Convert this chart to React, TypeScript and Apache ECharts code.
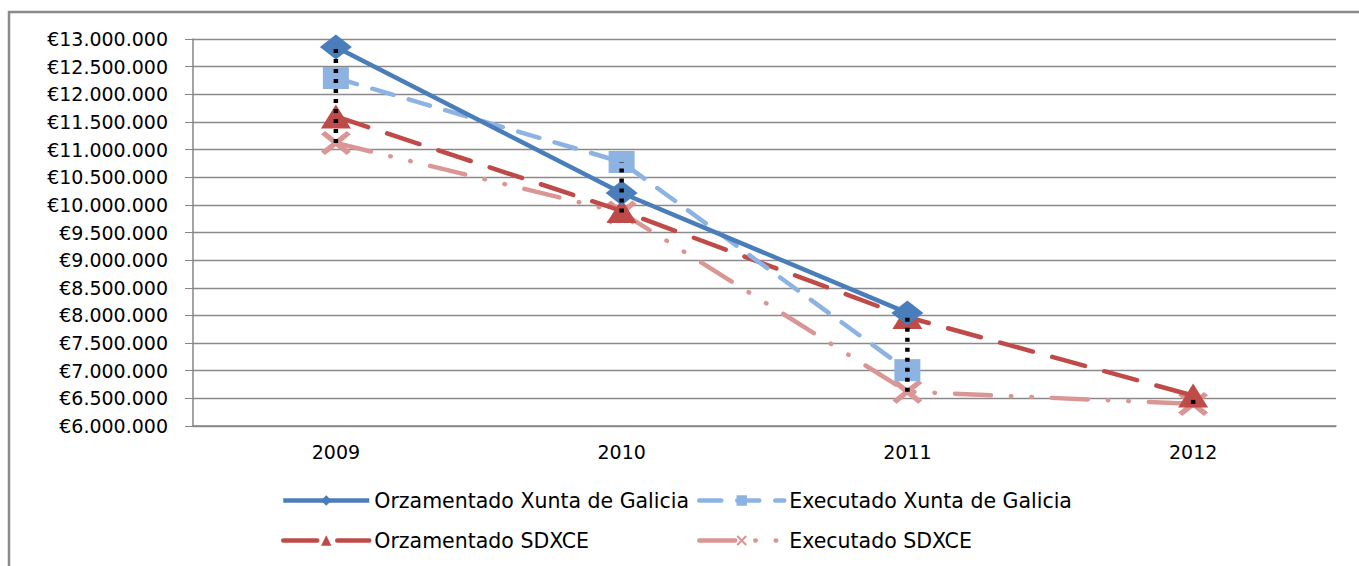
import React, { useEffect, useRef } from "react";
import * as echarts from "echarts";

const categories = ["2009", "2010", "2011", "2012"];
const seriesNames = [
  "Orzamentado Xunta de Galicia",
  "Executado Xunta de Galicia",
  "Orzamentado SDXCE",
  "Executado SDXCE",
];
const orzXunta: (number | null)[] = [12855000, 10215000, 8045000, null];
const execXunta: (number | null)[] = [12295000, 10775000, 7010000, null];
const orzSdxce: (number | null)[] = [11600000, 9890000, 7970000, 6550000];
const execSdxce: (number | null)[] = [11120000, 9860000, 6620000, 6400000];

const fmt = (v: number) => "€" + String(v).replace(/\B(?=(\d{3})+(?!\d))/g, ".");

const X_PATH =
  "path://M0,1.4 L1.4,0 L10,8.6 L8.6,10 Z M8.6,0 L10,1.4 L1.4,10 L0,8.6 Z";

export default function App() {
  const ref = useRef<HTMLDivElement>(null);
  useEffect(() => {
    if (!ref.current) return;
    const chart = echarts.init(ref.current, undefined, { renderer: "svg" });
    const all = [orzXunta, execXunta, orzSdxce, execSdxce];
    const hiLo = categories.map((_, i) => {
      const vals = all.map((s) => s[i]).filter((v) => v != null) as number[];
      return [i, Math.min(...vals), Math.max(...vals)];
    });
    const axisFont = "DejaVu Sans";
    const legendText = {
      color: "#000",
      fontFamily: axisFont,
      fontSize: 20.5,
      lineHeight: 20,
    };
    chart.setOption({
      animation: false,
      backgroundColor: "#fff",
      graphic: [
        {
          type: "polyline",
          shape: { points: [[9, 566], [9, 12], [1359, 12]] },
          style: { stroke: "#8a8a8a", lineWidth: 2.5, fill: "none" },
          silent: true,
        },
      ],
      grid: { left: 193, top: 39, right: 23, bottom: 140 },
      xAxis: {
        type: "category",
        data: categories,
        boundaryGap: true,
        axisLine: { lineStyle: { color: "#868686", width: 1.5 } },
        axisTick: { show: false },
        axisLabel: { color: "#000", fontFamily: axisFont, fontSize: 19, margin: 16 },
      },
      yAxis: {
        type: "value",
        min: 6000000,
        max: 13000000,
        interval: 500000,
        axisLine: { show: true, lineStyle: { color: "#868686", width: 1.5 } },
        axisTick: { show: true, length: 8, lineStyle: { color: "#868686" } },
        splitLine: { lineStyle: { color: "#8a8a8a", width: 1.3 } },
        axisLabel: {
          color: "#000",
          fontFamily: axisFont,
          fontSize: 19,
          margin: 25,
          formatter: fmt,
        },
      },
      legend: [
        {
          orient: "vertical",
          left: 276,
          top: 485,
          itemWidth: 86,
          itemHeight: 13,
          itemGap: 19,
          lineStyle: { width: 4.5 },
          data: [seriesNames[0], seriesNames[2]],
          textStyle: legendText,
        },
        {
          orient: "vertical",
          left: 692,
          top: 485,
          itemWidth: 85,
          itemHeight: 13,
          itemGap: 19,
          lineStyle: { width: 4.5 },
          data: [seriesNames[1], seriesNames[3]],
          textStyle: legendText,
        },
      ],
      series: [
        {
          name: seriesNames[0],
          type: "line",
          data: orzXunta,
          symbol: "diamond",
          symbolSize: [32, 25],
          itemStyle: { color: "#4A7EBB" },
          lineStyle: { color: "#4A7EBB", width: 4.5 },
          z: 5,
        },
        {
          name: seriesNames[1],
          type: "line",
          data: execXunta,
          symbol: "rect",
          symbolSize: [26, 22],
          itemStyle: { color: "#8DB3E2" },
          lineStyle: { color: "#8DB3E2", width: 4.5, type: [22, 16], cap: "round" },
          z: 4,
        },
        {
          name: seriesNames[2],
          type: "line",
          data: orzSdxce,
          symbol: "triangle",
          symbolSize: [30, 24],
          itemStyle: { color: "#BE4B48" },
          lineStyle: { color: "#BE4B48", width: 4.5, type: [34, 20], cap: "round" },
          z: 3,
        },
        {
          name: seriesNames[3],
          type: "line",
          data: execSdxce,
          symbol: X_PATH,
          symbolSize: [30, 24],
          itemStyle: { color: "#DA9694" },
          lineStyle: {
            color: "#DA9694",
            width: 4.5,
            type: [36, 20, 0.5, 20, 0.5, 20],
            cap: "round",
          },
          z: 2,
        },
        {
          name: "hilo",
          type: "custom",
          data: hiLo,
          encode: { x: 0, y: [1, 2] },
          z: 10,
          silent: true,
          renderItem: (_params: any, api: any) => {
            const lo = api.coord([api.value(0), api.value(1)]);
            const hi = api.coord([api.value(0), api.value(2)]);
            return {
              type: "line",
              shape: { x1: lo[0], y1: lo[1], x2: hi[0], y2: hi[1] },
              style: { stroke: "#000", lineWidth: 4.5, lineDash: [4, 6] },
            };
          },
        },
      ],
    });
    return () => chart.dispose();
  }, []);
  return (
    <div
      ref={ref}
      style={{ position: "fixed", left: 0, top: 0, width: 1359, height: 566 }}
    />
  );
}
